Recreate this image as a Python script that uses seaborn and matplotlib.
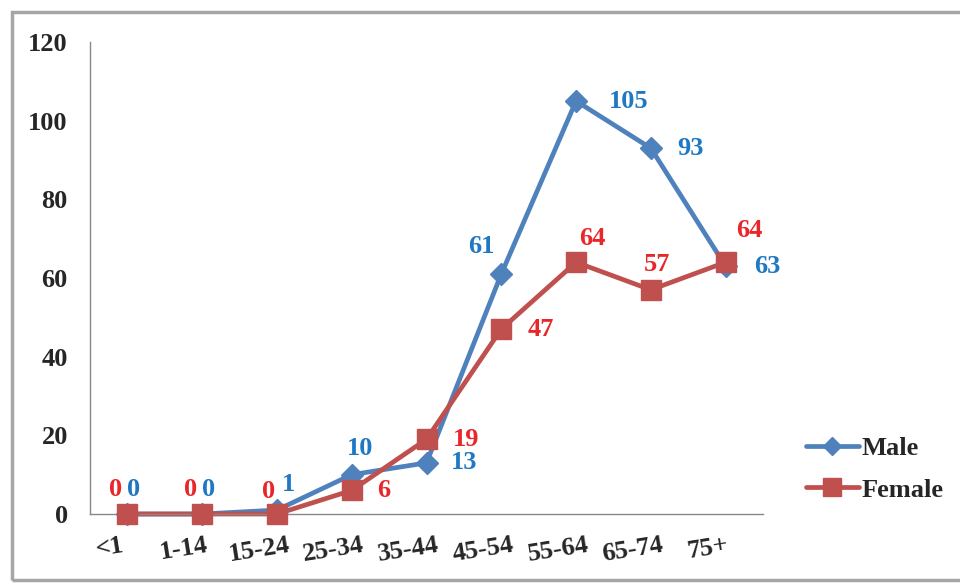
import matplotlib
matplotlib.use("Agg")
import matplotlib.pyplot as plt
import matplotlib.transforms as mtransforms
from matplotlib.patches import Rectangle
from matplotlib.lines import Line2D
import numpy as np
import pandas as pd
import seaborn as sns

# ข้อมูล
age_groups = ['<1', '1-14', '15-24', '25-34', '35-44', '45-54', '55-64', '65-74', '75+']
male = [0, 0, 1, 10, 13, 61, 105, 93, 63]
female = [0, 0, 0, 6, 19, 47, 64, 57, 64]
y_ticks = [0, 20, 40, 60, 80, 100, 120]

# label offsets in pixels (style only)
male_off = [(6, 24), (6, 24), (12, 26), (8, 26), (38, 0), (-20, 28), (53, 0), (40, 0), (42, 0)]
female_off = [(-12, 24), (-12, 24), (-8, 22), (32, 0), (40, 0), (40, 0), (16, 24), (6, 25), (24, 32)]

df = pd.DataFrame({
    'age': age_groups * 2,
    'count': male + female,
    'sex': ['Male'] * len(male) + ['Female'] * len(female),
})
df['x'] = list(range(len(age_groups))) * 2

sns.set_style('white')
plt.rcParams['font.family'] = ['Liberation Serif', 'DejaVu Serif']
plt.rcParams['font.weight'] = 'bold'

line_blue = '#4F81BD'
line_red = '#C0504D'
lab_blue = '#1F78C1'
lab_red = '#E8272B'
fs = 19

fig = plt.figure(figsize=(9.6, 5.83), dpi=100)
ax = fig.add_axes([90 / 960, 1 - 514 / 583, (763 - 90) / 960, (514 - 42) / 583])

sns.lineplot(data=df, x='x', y='count', hue='sex',
             palette={'Male': line_blue, 'Female': line_red},
             linewidth=3.4, sort=False, ax=ax, legend=False)
for ln in ax.lines:
    ln.set_clip_on(False)

ax.plot(range(len(male)), male, 'D', color=line_blue, markersize=11, clip_on=False, zorder=4)
ax.plot(range(len(female)), female, 's', color=line_red, markersize=15, clip_on=False, zorder=5)

for i, v in enumerate(male):
    ax.annotate(str(v), (i, v), xytext=male_off[i], textcoords='offset pixels',
                ha='center', va='center', color=lab_blue, fontsize=fs, fontweight='bold',
                annotation_clip=False, zorder=6)
for i, v in enumerate(female):
    ax.annotate(str(v), (i, v), xytext=female_off[i], textcoords='offset pixels',
                ha='center', va='center', color=lab_red, fontsize=fs, fontweight='bold',
                annotation_clip=False, zorder=6)

ax.set_xlim(-0.5, len(age_groups) - 0.5)
ax.set_ylim(0, 120)
ax.set_yticks(y_ticks)
ax.set_yticklabels([str(t) for t in y_ticks], fontsize=fs, fontweight='bold')
ax.set_xticks(range(len(age_groups)))
ax.set_xticklabels(age_groups, fontsize=fs, fontweight='bold', rotation=9)
ax.set_xticks(np.arange(-0.5, len(age_groups), 1), minor=True)
ax.tick_params(axis='x', which='major', length=0, pad=14)
ax.tick_params(axis='x', which='minor', length=7, width=1, color='#888888', direction='out')
ax.tick_params(axis='y', length=7, width=1, color='#888888', direction='out', pad=9)
ax.set_xlabel('')
ax.set_ylabel('')

shift = mtransforms.ScaledTranslation(-18 / 100, 0, fig.dpi_scale_trans)
for lbl in ax.get_xticklabels():
    lbl.set_transform(lbl.get_transform() + shift)
    lbl.set_ha('center')

for s in ['top', 'right']:
    ax.spines[s].set_visible(False)
for s in ['left', 'bottom']:
    ax.spines[s].set_color('#888888')
    ax.spines[s].set_linewidth(1)

handles = [
    Line2D([], [], color=line_blue, lw=3.4, marker='D', markersize=9),
    Line2D([], [], color=line_red, lw=3.4, marker='s', markersize=13),
]
fig.legend(handles, ['Male', 'Female'], loc='center left',
           bbox_to_anchor=(806 / 960, 1 - 469 / 583), frameon=False, borderpad=0,
           borderaxespad=0, prop={'size': fs, 'weight': 'bold'}, handlelength=2.0,
           handletextpad=0.1, labelspacing=0.7)

# outer frame
fig.patches.append(Rectangle((12 / 960, 3 / 583), 1.0, 1 - 15 / 583,
                             transform=fig.transFigure, fill=False,
                             edgecolor='#A6A6A6', linewidth=2.5, zorder=0))

fig.savefig('out.png', dpi=100)
